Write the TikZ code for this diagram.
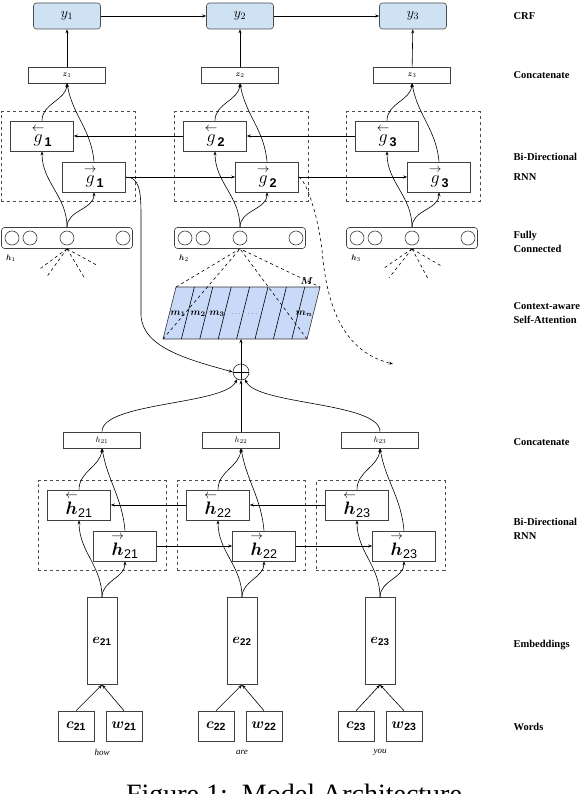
\RequirePackage{fix-cm}
\documentclass[tikz,border=0pt]{standalone}
\usepackage{amsmath,amssymb}
\usepackage{fontspec}
\setmainfont{Liberation Serif}
\setsansfont{Liberation Sans}
\usetikzlibrary{positioning,arrows.meta,fit}
\usepackage{xcolor}
\definecolor{crfblue}{RGB}{207,226,243}
\definecolor{attblue}{RGB}{201,218,248}

\begin{document}
\begin{tikzpicture}[
  x=1pt, y=1pt,
  >={Stealth[length=4pt,width=3pt]},
  line width=0.6pt,
  crf/.style={draw=black!70, fill=crfblue, rounded corners=3pt, minimum width=67, minimum height=26, inner sep=0pt, font=\fontsize{14}{14}\selectfont},
  cat/.style={draw=black!75, minimum width=77, minimum height=16, inner sep=0pt, font=\fontsize{8}{8}\selectfont},
  cell/.style={draw=black!75, minimum width=63, minimum height=30, inner sep=0pt, font=\fontsize{18}{18}\selectfont},
  grp/.style={draw=black!70, dashed, inner sep=9pt},
  fc/.style={draw=black!75, rounded corners=3pt, minimum width=131, minimum height=21, inner sep=0pt},
  unit/.style={draw=black!75, circle, minimum size=14, inner sep=0pt},
  emb/.style={draw=black!75, minimum width=30, minimum height=87, inner sep=0pt, font=\fontsize{14}{14}\selectfont},
  word/.style={draw=black!75, minimum width=36, minimum height=30, inner sep=0pt, font=\fontsize{15}{15}\selectfont},
  layer/.style={anchor=west, align=left, font=\bfseries\fontsize{10.5}{14}\selectfont},
  mlab/.style={inner sep=0pt, font=\fontsize{10}{10}\selectfont}
]
\useasboundingbox (0,0) rectangle (586,-794);

% CRF
\node[crf] (y1) at (67,-16) {$y_{1}$};
\node[crf] (y2) at (240,-16) {$y_{2}$};
\node[crf] (y3) at (413,-16) {$y_{3}$};
\draw[->] (y1) -- (y2);
\draw[->] (y2) -- (y3);

% concatenate (top)
\node[cat] (z1) at (67,-75) {$\boldsymbol{z}_{1}$};
\node[cat] (z2) at (240,-75) {$\boldsymbol{z}_{2}$};
\node[cat] (z3) at (412,-75) {$\boldsymbol{z}_{3}$};
\draw[->] (z1) -- (y1);
\draw[->] (z2) -- (y2);
\draw[->] (z3) -- (y3);

% bi-directional RNN (top)
\node[cell] (gb1) at (42,-136) {$\overset{\leftarrow}{g}_{\textsf{\bfseries 1}}$};
\node[cell] (gf1) at (94,-177) {$\overset{\rightarrow}{g}_{\textsf{\bfseries 1}}$};
\node[cell] (gb2) at (215,-136) {$\overset{\leftarrow}{g}_{\textsf{\bfseries 2}}$};
\node[cell] (gf2) at (267,-177) {$\overset{\rightarrow}{g}_{\textsf{\bfseries 2}}$};
\node[cell] (gb3) at (387,-136) {$\overset{\leftarrow}{g}_{\textsf{\bfseries 3}}$};
\node[cell] (gf3) at (439,-177) {$\overset{\rightarrow}{g}_{\textsf{\bfseries 3}}$};
\node[grp, fit=(gb1)(gf1)] (ggrp1) {};
\node[grp, fit=(gb2)(gf2)] (ggrp2) {};
\node[grp, fit=(gb3)(gf3)] (ggrp3) {};
\draw[->] (gb2) -- (gb1);
\draw[->] (gb3) -- (gb2);
\draw[->] (gf1) -- (gf2);
\draw[->] (gf2) -- (gf3);
\draw[->] (gb1.north) to[out=90,in=-95] (z1.south);
\draw[->] (gf1.north) to[out=95,in=-80] (z1.south);
\draw[->] (gb2.north) to[out=90,in=-95] (z2.south);
\draw[->] (gf2.north) to[out=95,in=-80] (z2.south);
\draw[->] (gb3.north) to[out=90,in=-95] (z3.south);
\draw[->] (gf3.north) to[out=95,in=-80] (z3.south);

% fully connected
\node[fc] (fc1) at (67,-238) {};
\node[fc] (fc2) at (240,-238) {};
\node[fc] (fc3) at (412,-238) {};
\node[unit] (u11) at ([xshift=-55pt]fc1.center) {};
\node[unit] (u12) at ([xshift=-37pt]fc1.center) {};
\node[unit] (u13) at (fc1.center) {};
\node[unit] (u14) at ([xshift=56pt]fc1.center) {};
\node[unit] (u21) at ([xshift=-55pt]fc2.center) {};
\node[unit] (u22) at ([xshift=-37pt]fc2.center) {};
\node[unit] (u23) at (fc2.center) {};
\node[unit] (u24) at ([xshift=56pt]fc2.center) {};
\node[unit] (u31) at ([xshift=-55pt]fc3.center) {};
\node[unit] (u32) at ([xshift=-37pt]fc3.center) {};
\node[unit] (u33) at (fc3.center) {};
\node[unit] (u34) at ([xshift=56pt]fc3.center) {};
\node[font=\fontsize{8}{8}\selectfont] (k1) at (11,-258) {$\boldsymbol{h}_{1}$};
\node[font=\fontsize{8}{8}\selectfont] (k2) at (184,-258) {$\boldsymbol{h}_{2}$};
\node[font=\fontsize{8}{8}\selectfont] (k3) at (356,-258) {$\boldsymbol{h}_{3}$};
\draw[->] (fc1.north) to[out=90,in=-90] (gb1.south);
\draw[->] (fc1.north) to[out=90,in=-90] (gf1.south);
\draw[->] (fc2.north) to[out=90,in=-90] (gb2.south);
\draw[->] (fc2.north) to[out=90,in=-90] (gf2.south);
\draw[->] (fc3.north) to[out=90,in=-90] (gb3.south);
\draw[->] (fc3.north) to[out=90,in=-90] (gf3.south);
\draw[dashed] (fc1.south) -- +(-27,-20) (fc1.south) -- +(-21,-29)
  (fc1.south) -- +(18,-30) (fc1.south) -- +(31,-17);
\draw[dashed] (fc3.south) -- +(-29,-20) (fc3.south) -- +(-23,-29)
  (fc3.south) -- +(16,-30) (fc3.south) -- +(29,-17);

% context-aware self-attention
\coordinate (Mtl) at (176,-287);
\coordinate (Mtr) at (320,-287);
\coordinate (Mbr) at (307,-339);
\coordinate (Mbl) at (163,-339);
\coordinate (Mb) at (241,-339);
\draw[draw=black!80, fill=attblue] (Mtl) -- (Mtr) -- (Mbr) -- (Mbl) -- cycle;
\foreach \i in {1,...,7}
  \draw ({176+18.4*\i},-287) -- ({163+18.4*\i},-339);
\draw[dashed] (Mtl) -- (fc2.south) -- (Mtr);
\draw[dashed] (Mbl) -- (fc2.south) -- (Mbr);
\node[mlab] (m1) at (178,-314) {$\boldsymbol{m}_{\boldsymbol{1}}$};
\node[mlab] (m2) at (198,-314) {$\boldsymbol{m}_{\boldsymbol{2}}$};
\node[mlab] (m3) at (217,-314) {$\boldsymbol{m}_{\boldsymbol{3}}$};
\node[mlab, font=\fontsize{6}{6}\selectfont] (mdots) at (245,-314) {$\cdots\quad\cdots$};
\node[mlab] (mn) at (304,-314) {$\boldsymbol{m}_{\boldsymbol{n}}$};
\node[mlab] (Mlab) at (307,-281) {$\boldsymbol{M}$};

% combination
\node[circle, draw=black!80, minimum size=16, inner sep=0pt] (plus) at (241,-372) {};
\draw (plus.north) -- (plus.south) (plus.west) -- (plus.east);
\draw[->] (plus.north) -- (Mb);
\draw[->] (gf1.east) .. controls (139,-177) and (141,-190) .. (141,-215)
  -- (141,-315) .. controls (142,-348) and (190,-360) .. (plus.west);
\coordinate (gout) at (393,-364);
\draw[dashed,->] (gf2.east) .. controls (306,-180) and (318,-215) .. (322,-250)
  .. controls (327,-310) and (345,-352) .. (gout);

% concatenate (bottom)
\node[cat] (hc1) at (102,-440) {$h_{21}$};
\node[cat] (hc2) at (241,-440) {$h_{22}$};
\node[cat] (hc3) at (380,-440) {$h_{23}$};
\draw[->] (hc1.north) .. controls (102,-402) and (226,-405) .. (plus.-120);
\draw[->] (hc2.north) -- (plus.south);
\draw[->] (hc3.north) .. controls (380,-402) and (256,-405) .. (plus.-60);

% bi-directional RNN (bottom)
\node[cell] (hb1) at (79,-505) {$\overset{\leftarrow}{\boldsymbol{h}}_{\textsf{21}}$};
\node[cell] (hf1) at (125,-546) {$\overset{\rightarrow}{\boldsymbol{h}}_{\textsf{21}}$};
\node[cell] (hb2) at (218,-505) {$\overset{\leftarrow}{\boldsymbol{h}}_{\textsf{22}}$};
\node[cell] (hf2) at (264,-546) {$\overset{\rightarrow}{\boldsymbol{h}}_{\textsf{22}}$};
\node[cell] (hb3) at (357,-505) {$\overset{\leftarrow}{\boldsymbol{h}}_{\textsf{23}}$};
\node[cell] (hf3) at (404,-546) {$\overset{\rightarrow}{\boldsymbol{h}}_{\textsf{23}}$};
\node[grp, fit=(hb1)(hf1)] (hgrp1) {};
\node[grp, fit=(hb2)(hf2)] (hgrp2) {};
\node[grp, fit=(hb3)(hf3)] (hgrp3) {};
\draw[->] (hb2) -- (hb1);
\draw[->] (hb3) -- (hb2);
\draw[->] (hf1) -- (hf2);
\draw[->] (hf2) -- (hf3);
\draw[->] (hb1.north) to[out=90,in=-95] (hc1.south);
\draw[->] (hf1.north) to[out=95,in=-80] (hc1.south);
\draw[->] (hb2.north) to[out=90,in=-95] (hc2.south);
\draw[->] (hf2.north) to[out=95,in=-80] (hc2.south);
\draw[->] (hb3.north) to[out=90,in=-95] (hc3.south);
\draw[->] (hf3.north) to[out=95,in=-80] (hc3.south);

% embeddings
\node[emb] (e1) at (102,-641) {$\boldsymbol{e}_{\textsf{\bfseries 21}}$};
\node[emb] (e2) at (242,-641) {$\boldsymbol{e}_{\textsf{\bfseries 22}}$};
\node[emb] (e3) at (380,-641) {$\boldsymbol{e}_{\textsf{\bfseries 23}}$};
\draw[->] (e1.north) to[out=90,in=-90] (hb1.south);
\draw[->] (e1.north) to[out=90,in=-90] (hf1.south);
\draw[->] (e2.north) to[out=90,in=-90] (hb2.south);
\draw[->] (e2.north) to[out=90,in=-90] (hf2.south);
\draw[->] (e3.north) to[out=90,in=-90] (hb3.south);
\draw[->] (e3.north) to[out=90,in=-90] (hf3.south);

% words
\node[word] (c1) at (76,-726) {$\boldsymbol{c}_{\textsf{\bfseries 21}}$};
\node[word] (w1) at (124,-726) {$\boldsymbol{w}_{\textsf{\bfseries 21}}$};
\node[word] (c2) at (216,-726) {$\boldsymbol{c}_{\textsf{\bfseries 22}}$};
\node[word] (w2) at (264,-726) {$\boldsymbol{w}_{\textsf{\bfseries 22}}$};
\node[word] (c3) at (356,-726) {$\boldsymbol{c}_{\textsf{\bfseries 23}}$};
\node[word] (w3) at (404,-726) {$\boldsymbol{w}_{\textsf{\bfseries 23}}$};
\draw[->] (c1.north) -- (e1.south);
\draw[->] (w1.north) -- (e1.south);
\draw[->] (c2.north) -- (e2.south);
\draw[->] (w2.north) -- (e2.south);
\draw[->] (c3.north) -- (e3.south);
\draw[->] (w3.north) -- (e3.south);
\node[font=\itshape\fontsize{9}{9}\selectfont] (how) at (102,-752) {how};
\node[font=\itshape\fontsize{9}{9}\selectfont] (are) at (242,-752) {are};
\node[font=\itshape\fontsize{9}{9}\selectfont] (you) at (380,-752) {you};

% layer names
\node[layer] (lcrf) at (510,-16) {CRF};
\node[layer] (lcat1) at (510,-75) {Concatenate};
\node[layer] (lrnn1) at (510,-167) {Bi-Directional\\[6pt]RNN};
\node[layer] (lfc) at (510,-242) {Fully\\Connected};
\node[layer] (latt) at (510,-313) {Context-aware\\Self-Attention};
\node[layer] (lcat2) at (510,-442) {Concatenate};
\node[layer] (lrnn2) at (510,-529) {Bi-Directional\\RNN};
\node[layer] (lemb) at (510,-645) {Embeddings};
\node[layer] (lword) at (510,-727) {Words};

% caption
\node[anchor=base, inner sep=0pt, font=\fontsize{28}{30}\selectfont] (cap) at (294,-803) {Figure 1:\ \ Model Architecture};
\end{tikzpicture}
\end{document}
